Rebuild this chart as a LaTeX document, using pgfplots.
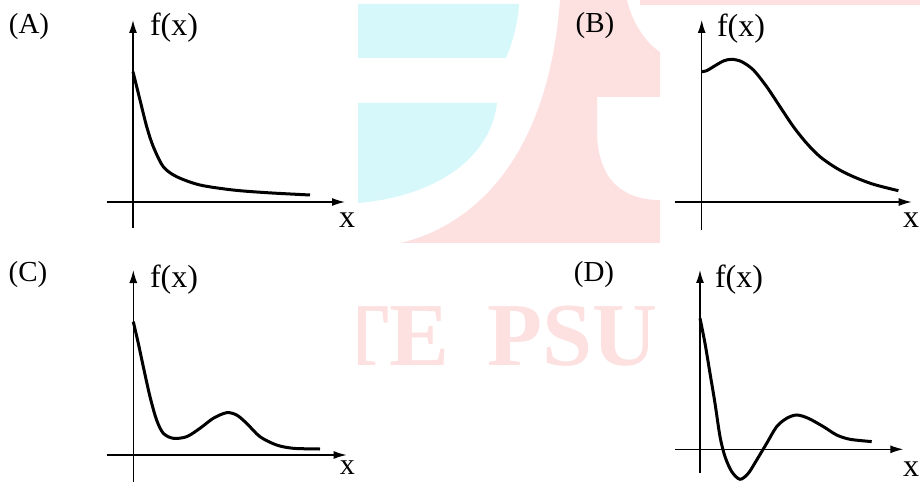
\documentclass[border=0pt]{standalone}
\usepackage{fontspec}
\setmainfont{Liberation Serif}
\usepackage{pgfplots}
\pgfplotsset{compat=1.18}
\usetikzlibrary{arrows.meta}

\definecolor{wmcyan}{RGB}{214,248,250}
\definecolor{wmpink}{RGB}{253,225,225}

\pgfplotsset{
  sketch/.style={
    axis lines=middle, x=1pt, y=1pt, enlargelimits=false, clip=false,
    xtick=\empty, ytick=\empty, anchor=origin,
    axis line style={line width=1.3pt, -{Latex[length=13pt,width=8pt]}},
    xlabel={x}, ylabel={f(x)},
  },
  curve/.style={black, line width=3pt, smooth, no marks},
}
\newcommand\lblfont{\fontsize{32}{36}\selectfont}
\newcommand\panelfont{\fontsize{29}{32}\selectfont}

\begin{document}
\begin{tikzpicture}[x=1pt,y=1pt]
\path[use as bounding box] (0,0) rectangle (920,482);

% watermark
\fill[wmcyan] (358,424) -- (358,478) -- (519,478)
  .. controls (518,460) and (513,440) .. (506,424) -- cycle;
\fill[wmcyan] (358,379) -- (497,379)
  .. controls (490,320) and (430,285) .. (358,279) -- cycle;
\fill[wmpink] (400,239) .. controls (470,255) and (548,320) .. (560,482)
  -- (627,482) .. controls (632,460) and (645,440) .. (660,430)
  -- (660,385) -- (597,385) -- (597,352)
  .. controls (597,300) and (625,282) .. (660,282)
  -- (660,239) -- cycle;
\fill[wmpink] (640,477) rectangle (920,482);
\begin{scope}
  \clip (358,100) rectangle (660,190);
  \node[wmpink, font=\fontsize{90}{96}\selectfont\bfseries, inner sep=0pt,
        anchor=base east] at (450,117) {GATE};
  \node[wmpink, font=\fontsize{90}{96}\selectfont\bfseries, inner sep=0pt,
        anchor=base west] at (487,117) {PSU};
\end{scope}

% (A)
\node[font=\panelfont, inner sep=0pt] at (29,455) {(A)};
\begin{axis}[sketch, at={(133,280)},
    xmin=-26, xmax=212, ymin=-26, ymax=182,
    x label style={at={(axis cs:214,-18.5)}, anchor=center, inner sep=0pt, font=\lblfont},
    y label style={at={(axis cs:41,174)}, anchor=center, inner sep=0pt, font=\lblfont}]
\addplot[curve] coordinates {
  (0,130.3) (7,102) (13.7,75.3) (20.3,55.3) (30.3,35.3) (43.7,25.3)
  (67,17) (100,12) (134,9.3) (177,7)
};
\end{axis}

% (B)
\node[font=\panelfont, inner sep=0pt] at (595,456) {(B)};
\begin{axis}[sketch, at={(701.7,280)},
    xmin=-26.7, xmax=210, ymin=-28, ymax=182,
    x label style={at={(axis cs:209.5,-18.5)}, anchor=center, inner sep=0pt, font=\lblfont},
    y label style={at={(axis cs:39.3,173)}, anchor=center, inner sep=0pt, font=\lblfont}]
\addplot[curve] coordinates {
  (0,130.3) (5,131.3) (11.7,135.3) (21.7,141) (30,142.7) (40,140.3)
  (51.7,132) (65,115.3) (78.3,95.3) (91.7,75.3) (105,58.7) (118.3,45.3)
  (135,33.7) (151.7,25.3) (171.7,17.7) (196.7,11.3)
};
\end{axis}

% (C)
\node[font=\panelfont, inner sep=0pt] at (28,207) {(C)};
\begin{axis}[sketch, at={(133.3,27)},
    xmin=-26.7, xmax=213.3, ymin=-27, ymax=185,
    x label style={at={(axis cs:214,-12.5)}, anchor=center, inner sep=0pt,
      font=\fontsize{30}{32}\selectfont},
    y label style={at={(axis cs:40.7,175)}, anchor=center, inner sep=0pt, font=\lblfont}]
\addplot[curve] coordinates {
  (0,133.3) (5,111.7) (10,88.3) (16.7,58.3) (23.3,35) (30,21.7)
  (40,16.7) (53.3,18.3) (66.7,26.7) (80,36.7) (93.3,42.3) (103.3,40)
  (113.3,31.7) (126.7,18.3) (143.3,10) (160,6.7) (186.7,6)
};
\end{axis}

% (D)
\node[font=\panelfont, inner sep=0pt] at (594,207) {(D)};
\begin{axis}[sketch, at={(700,32.7)},
    xmin=-25, xmax=203.3, ymin=-24, ymax=179.3,
    x label style={at={(axis cs:211,-19.7)}, anchor=center, inner sep=0pt, font=\lblfont},
    y label style={at={(axis cs:39,169.3)}, anchor=center, inner sep=0pt, font=\lblfont}]
\addplot[curve] coordinates {
  (0,131) (5,106) (10,76) (15,46) (20,12.7) (25,-7.3) (31.7,-22.3)
  (40,-30) (48.3,-24) (56.7,-10.7) (66.7,6) (76.7,22.7) (86.7,31)
  (96.7,34.3) (108.3,31) (123.3,22.7) (136.7,14.3) (150,10) (171.7,7.7)
};
\end{axis}
\end{tikzpicture}
\end{document}
